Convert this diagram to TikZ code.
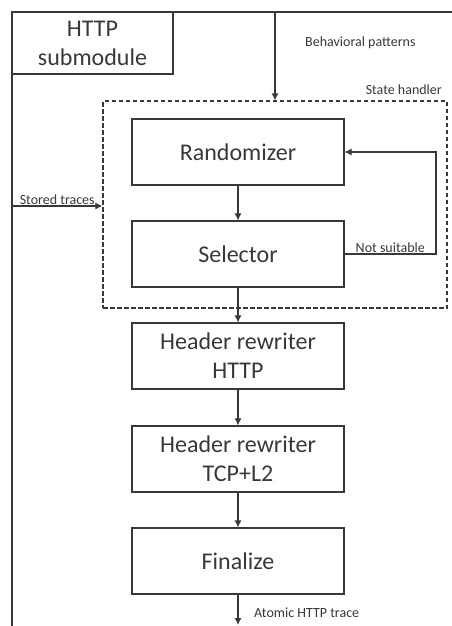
\documentclass[tikz,border=0pt]{standalone}
\usepackage{fontspec}
\setmainfont{Carlito}
\usepackage{tikz}
\usetikzlibrary{arrows.meta}

\tikzset{
  block/.style={draw, line width=1.1pt, minimum width=212pt, minimum height=66pt,
    align=center, font=\fontsize{24}{29}\selectfont, inner sep=0pt},
  flow/.style={line width=1.1pt, -{Latex[length=7pt,width=7pt]}},
  tag/.style={font=\fontsize{14}{16}\selectfont, inner sep=1pt}
}

\begin{document}
\begin{tikzpicture}[x=1pt,y=-1pt,color=black!78]
  \useasboundingbox (0,0) rectangle (452,626);

  % outer frame of the module
  \draw[line width=1.1pt] (12,626) -- (12,12) -- (452,12);
  \node[draw, line width=1.1pt, minimum width=161pt, minimum height=62pt, align=center,
    font=\fontsize{24}{29}\selectfont, inner sep=0pt] (http) at (92.5,43) {HTTP\\submodule};

  % state handler
  \node[draw, dash pattern=on 4.5pt off 2.5pt, line width=1.1pt,
    minimum width=344pt, minimum height=207pt, inner sep=0pt] (handler) at (275,204.5) {};
  \node[tag, anchor=south east] (shlabel) at (443,96) {State handler};

  \node[block] (rand) at (238,152) {Randomizer};
  \node[block] (sel) at (238,254) {Selector};

  % rewriting chain
  \node[block] (hhttp) at (238,356) {Header rewriter\\HTTP};
  \node[block] (htcp) at (238,459) {Header rewriter\\TCP+L2};
  \node[block] (fin) at (238,561) {Finalize};

  % inputs
  \coordinate (bp) at (275,12);
  \node[tag, anchor=west] (bplabel) at (304,43) {Behavioral patterns};
  \draw[flow] (bp) -- (handler.north);

  \coordinate (st) at (12,206);
  \draw[flow] (st) -- node[tag, above] {Stored traces} (st -| handler.west);

  % main flow
  \draw[flow] (rand) -- (sel);
  \draw[flow] (sel) -- (hhttp);
  \draw[flow] (hhttp) -- (htcp);
  \draw[flow] (htcp) -- (fin);

  \coordinate (loop) at (436,203);
  \draw[flow] (sel.east) -| node[tag, pos=0.25, above] {Not suitable} (loop) |- (rand.east);

  % output
  \coordinate (out) at (238,625);
  \draw[flow] (fin) -- (out);
  \node[tag, anchor=west] (outlabel) at (253,613) {Atomic HTTP trace};
\end{tikzpicture}
\end{document}
